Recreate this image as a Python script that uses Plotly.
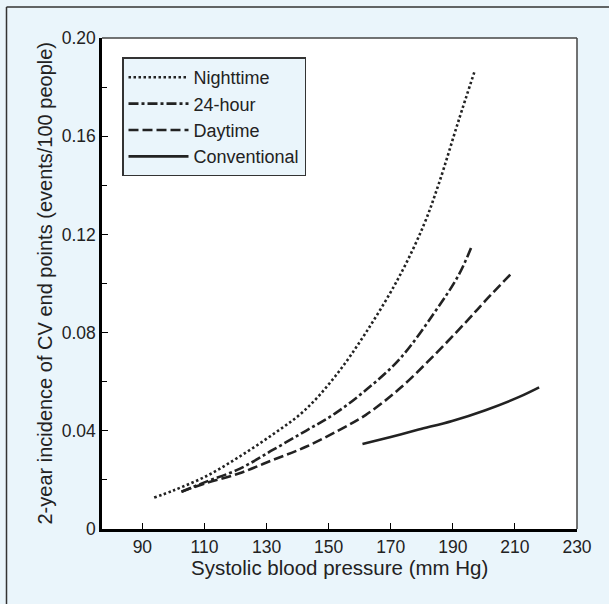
import plotly.graph_objects as go

# ---- data ----
night_x = [93.8, 100, 110.7, 121.3, 132, 142, 152, 162, 172.7, 180.7, 185.5, 191.9, 196.9]
night_y = [0.0128, 0.0157, 0.0216, 0.0295, 0.0385, 0.048, 0.062, 0.080, 0.1027, 0.124, 0.1407, 0.1665, 0.186]

h24_x = [102.6, 110, 121.3, 132, 142.7, 152, 162, 172.7, 184, 191.9, 196]
h24_y = [0.0152, 0.019, 0.0245, 0.0322, 0.040, 0.047, 0.0566, 0.0690, 0.0880, 0.1035, 0.1149]

day_x = [102.6, 110, 121.3, 132, 142.7, 153.4, 162, 172.7, 183.4, 194, 200.5, 208.5]
day_y = [0.0152, 0.0185, 0.0227, 0.0281, 0.0335, 0.0403, 0.0465, 0.0570, 0.0700, 0.0840, 0.0930, 0.1036]

conv_x = [160.9, 170, 179, 189.8, 200.5, 211.2, 217.8]
conv_y = [0.0346, 0.0375, 0.0405, 0.0440, 0.0484, 0.0537, 0.0577]

x_ticks = [90, 110, 130, 150, 170, 190, 210, 230]
y_ticks = [0, 0.04, 0.08, 0.12, 0.16, 0.20]
y_ticktext = ["0", "0.04", "0.08", "0.12", "0.16", "0.20"]
y_minor = [0.02, 0.06, 0.10, 0.14, 0.18]

series = [
    ("Nighttime", night_x, night_y, "2.5px,2.5px"),
    ("24-hour", h24_x, h24_y, "10px,3px,3px,3px"),
    ("Daytime", day_x, day_y, "10px,4px"),
    ("Conventional", conv_x, conv_y, "solid"),
]

BG = "#EAF5FB"
INK = "#222222"
FONT = "Liberation Sans, Arial, sans-serif"

fig = go.Figure()
for name, xs, ys, dash in series:
    fig.add_trace(go.Scatter(
        x=xs, y=ys, name=name, mode="lines",
        line=dict(color=INK, width=2.6, dash=dash, shape="spline", smoothing=1.0),
    ))

L, R, T, B = 102, 32, 37.5, 75
W, H = 609, 604
pw, ph = W - L - R, H - T - B

def px_to_paper_x(px):
    return (px - L) / pw

def py_to_paper_y(py):
    return 1 - (py - T) / ph

fig.update_layout(
    width=W, height=H,
    margin=dict(l=L, r=R, t=T, b=B, pad=0),
    paper_bgcolor=BG, plot_bgcolor="white",
    font=dict(family=FONT, size=17, color=INK),
    showlegend=True,
    legend=dict(
        x=px_to_paper_x(122), y=py_to_paper_y(57), xanchor="left", yanchor="top",
        bgcolor=BG, bordercolor="#333333", borderwidth=1.5,
        font=dict(family=FONT, size=18, color=INK),
        tracegroupgap=0, itemwidth=60,
    ),
    xaxis=dict(
        range=[77, 230], tickvals=x_ticks, ticks="inside", ticklen=6, tickwidth=1.2,
        tickcolor="black", showline=True, linecolor="black", linewidth=2.5,
        showgrid=False, zeroline=False, tickfont=dict(size=17.5),
    ),
    yaxis=dict(
        range=[0, 0.2], tickvals=y_ticks, ticktext=y_ticktext, ticks="inside",
        ticklen=6, tickwidth=1.2, tickcolor="black", showline=True,
        linecolor="black", linewidth=2.5, showgrid=False, zeroline=False,
        tickfont=dict(size=17.5),
        minor=dict(tickvals=y_minor, ticks="inside", ticklen=5, tickwidth=1.2, tickcolor="black", showgrid=False),
    ),
    shapes=[
        # top and right frame of the plot area
        dict(type="line", xref="paper", yref="paper", x0=0, x1=1, y0=1, y1=1,
             line=dict(color="#444444", width=1.5)),
        dict(type="line", xref="paper", yref="paper", x0=1, x1=1, y0=0, y1=1,
             line=dict(color="#444444", width=1.5)),
        # outer panel border (top and left visible)
        dict(type="line", xref="paper", yref="paper",
             x0=px_to_paper_x(6.5), x1=px_to_paper_x(700), y0=py_to_paper_y(6.5), y1=py_to_paper_y(6.5),
             line=dict(color="#333333", width=1.5)),
        dict(type="line", xref="paper", yref="paper",
             x0=px_to_paper_x(6.5), x1=px_to_paper_x(6.5), y0=py_to_paper_y(6.5), y1=py_to_paper_y(700),
             line=dict(color="#333333", width=1.5)),
    ],
    annotations=[
        dict(text="Systolic blood pressure (mm Hg)", xref="paper", yref="paper",
             x=0.5, y=py_to_paper_y(568), xanchor="center", yanchor="middle",
             showarrow=False, font=dict(size=20.5, color=INK)),
        dict(text="2-year incidence of CV end points (events/100 people)", xref="paper", yref="paper",
             x=px_to_paper_x(44), y=0.5, xanchor="center", yanchor="middle", textangle=-90,
             showarrow=False, font=dict(size=20, color=INK)),
    ],
)

fig.write_html("out.html")
